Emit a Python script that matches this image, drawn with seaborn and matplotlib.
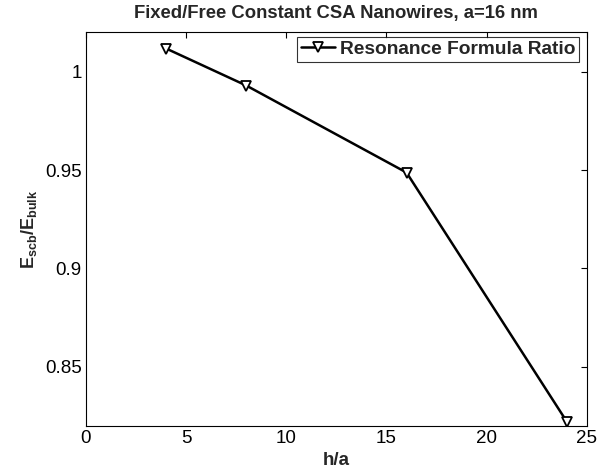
import matplotlib
matplotlib.use("Agg")
import matplotlib.pyplot as plt
import seaborn as sns
import pandas as pd
from matplotlib.ticker import FuncFormatter

# Thickness ratio and normalised modulus from the resonance formula
h_over_a = [4, 8, 16, 24]
ratio = [1.0117, 0.9929, 0.9487, 0.8222]
series_name = "Resonance Formula Ratio"

df = pd.DataFrame({"h/a": h_over_a, "ratio": ratio, "series": series_name})

sns.set_style("white")
plt.rcParams["font.family"] = ["Liberation Sans", "DejaVu Sans"]
plt.rcParams["mathtext.fontset"] = "custom"
plt.rcParams["mathtext.rm"] = "Liberation Sans"
plt.rcParams["mathtext.bf"] = "Liberation Sans:bold"
plt.rcParams["mathtext.it"] = "Liberation Sans:italic"

fig = plt.figure(figsize=(5.97, 4.73), dpi=100)
ax = fig.add_axes([0.144, 0.0994, 0.839, 0.8326])

sns.lineplot(data=df, x="h/a", y="ratio", hue="series", palette=["black"],
             marker="v", markersize=7, markerfacecolor="white",
             markeredgecolor="black", markeredgewidth=1.3,
             linewidth=1.8, ax=ax)

ax.set_xlim(0, 25)
ax.set_ylim(0.82, 1.02)
ax.set_xticks([0, 5, 10, 15, 20, 25])
ax.set_yticks([0.85, 0.9, 0.95, 1.0])
ax.yaxis.set_major_formatter(FuncFormatter(lambda v, p: f"{v:g}"))
ax.tick_params(direction="in", length=4, width=0.8, labelsize=13.5,
               top=True, right=True, colors="black", pad=3)
for s in ax.spines.values():
    s.set_visible(True)
    s.set_color("black")
    s.set_linewidth(0.8)

ax.set_xlabel("h/a", fontsize=13.5, fontweight="bold", labelpad=3.5)
ax.set_ylabel(r"$\mathbf{E_{scb}/E_{bulk}}$", fontsize=13, labelpad=4)
ax.set_title("Fixed/Free Constant CSA Nanowires, a=16 nm", fontsize=13.3,
             fontweight="bold", pad=10)

leg = ax.legend(loc="upper right", bbox_to_anchor=(0.984, 0.988),
                fontsize=13.8, frameon=True, fancybox=False,
                handlelength=1.75, handletextpad=0.25, borderpad=0.2,
                borderaxespad=0.0)
leg.get_frame().set_edgecolor("black")
leg.get_frame().set_linewidth(0.8)
for t in leg.get_texts():
    t.set_fontweight("bold")

fig.savefig("out.png", dpi=100)
